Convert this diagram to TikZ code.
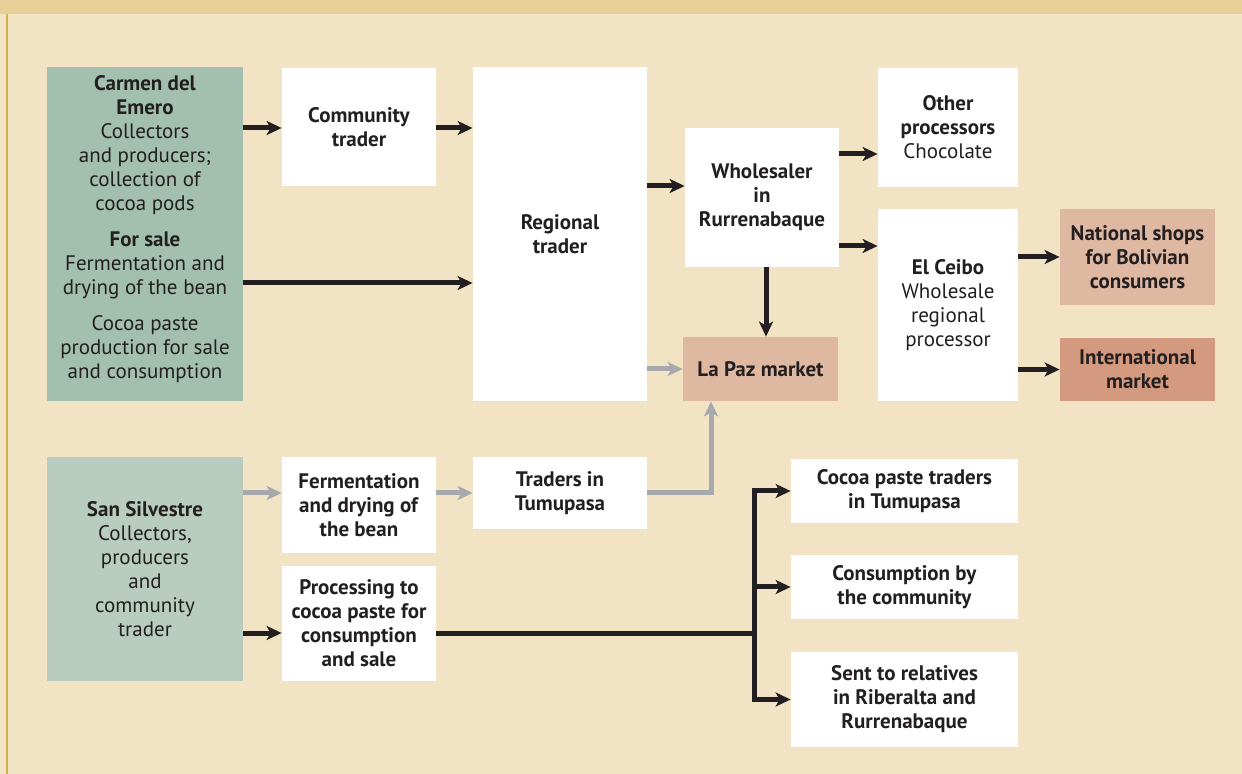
\documentclass[tikz,border=0pt]{standalone}
\usepackage{fontspec}
\setmainfont{PT Sans}
\usetikzlibrary{arrows.meta,positioning,calc}

\definecolor{paper}{HTML}{F2E3C4}
\definecolor{band}{HTML}{E8CF98}
\definecolor{goldline}{HTML}{D4B04A}
\definecolor{sage}{HTML}{A3BFB0}
\definecolor{palesage}{HTML}{B8CCC0}
\definecolor{rose}{HTML}{DFB8A2}
\definecolor{clay}{HTML}{D49A80}
\definecolor{ink}{HTML}{231F20}
\definecolor{greyflow}{HTML}{A7A9AC}

\begin{document}
\begin{tikzpicture}[x=0.5pt, y=-0.5pt,
    box/.style={rectangle, fill=white, text=ink, align=center, inner sep=0pt,
        font=\fontsize{10.5}{12}\selectfont},
    flow/.style={draw=ink, line width=2.5pt, line join=miter,
        -{Stealth[length=7.5pt, width=7pt, inset=2pt]}},
    greyarrow/.style={flow, draw=greyflow}]

    % background
    \useasboundingbox (0,0) rectangle (1242,774);
    \fill[paper] (0,0) rectangle (1242,774);
    \fill[band] (0,0) rectangle (1242,14);
    \fill[goldline] (5.5,14) rectangle (7.5,774);

    % upper chain
    \node[box, fill=sage, minimum width=98pt, minimum height=167pt] (carmen) at (145,234)
        {\textbf{Carmen del}\\\textbf{Emero}\\Collectors\\and producers;\\collection of\\cocoa pods\\[6pt]
         \textbf{For sale}\\Fermentation and\\drying of the bean\\[6pt]Cocoa paste\\production for sale\\and consumption\\[-5pt]\mbox{}};
    \node[box, minimum width=77pt, minimum height=59pt] (community) at (359,127) {\textbf{Community}\\\textbf{trader}};
    \node[box, minimum width=87pt, minimum height=167pt] (regional) at (560,234) {\textbf{Regional}\\\textbf{trader}};
    \node[box, minimum width=77pt, minimum height=69.5pt] (wholesaler) at (762,197.5) {\textbf{Wholesaler}\\\textbf{in}\\\textbf{Rurrenabaque}};
    \node[box, fill=rose, minimum width=77.5pt, minimum height=32pt] (lapaz) at (760.5,369) {\textbf{La Paz market}};
    \node[box, minimum width=70pt, minimum height=59.5pt] (others) at (948,127.5) {\textbf{Other}\\\textbf{processors}\\Chocolate};
    \node[box, minimum width=70pt, minimum height=96pt] (ceibo) at (948,305) {\textbf{El Ceibo}\\Wholesale\\regional\\processor};
    \node[box, fill=rose, minimum width=77.5pt, minimum height=48pt] (national) at (1137.5,257) {\textbf{National shops}\\\textbf{for Bolivian}\\\textbf{consumers}};
    \node[box, fill=clay, minimum width=77.5pt, minimum height=31.5pt] (international) at (1137.5,369.5) {\textbf{International}\\\textbf{market}};

    % lower chain
    \node[box, fill=palesage, minimum width=98pt, minimum height=112pt] (silvestre) at (145,569)
        {\textbf{San Silvestre}\\Collectors,\\producers\\and\\community\\trader};
    \node[box, minimum width=77pt, minimum height=48pt] (ferment) at (359,505) {\textbf{Fermentation}\\\textbf{and drying of}\\\textbf{the bean}};
    \node[box, minimum width=77pt, minimum height=57.5pt] (paste) at (359,623.5) {\textbf{Processing to}\\\textbf{cocoa paste for}\\\textbf{consumption}\\\textbf{and sale}};
    \node[box, minimum width=87pt, minimum height=36pt] (tumupasa) at (560,493) {\textbf{Traders in}\\\textbf{Tumupasa}};
    \node[box, minimum width=113.5pt, minimum height=32pt] (pastetraders) at (904.5,491) {\textbf{Cocoa paste traders}\\\textbf{in Tumupasa}};
    \node[box, minimum width=113.5pt, minimum height=32pt] (consumption) at (904.5,587) {\textbf{Consumption by}\\\textbf{the community}};
    \node[box, minimum width=113.5pt, minimum height=47.5pt] (relatives) at (904.5,699.5) {\textbf{Sent to relatives}\\\textbf{in Riberalta and}\\\textbf{Rurrenabaque}};
    \coordinate (split) at (754,633);

    % black flows
    \draw[flow] (carmen.east |- 0,128) -- (community.west |- 0,128);
    \draw[flow] (community.east |- 0,128) -- (regional.west |- 0,128);
    \draw[flow] (carmen.east |- 0,283) -- (regional.west |- 0,283);
    \draw[flow] (regional.east |- 0,186) -- (wholesaler.west |- 0,186);
    \draw[flow] (wholesaler.east |- 0,154) -- (others.west |- 0,154);
    \draw[flow] (wholesaler.east |- 0,246) -- (ceibo.west |- 0,246);
    \draw[flow] (wholesaler.south -| 766,0) -- (lapaz.north -| 766,0);
    \draw[flow] (ceibo.east |- national.west) -- (national.west);
    \draw[flow] (ceibo.east |- international.west) -- (international.west);
    \draw[flow] (silvestre.east |- split) -- (paste.west |- split);
    \draw[draw=ink, line width=2.5pt] (paste.east |- split) -- (split);
    \draw[flow] (split) |- (pastetraders.west);
    \draw[flow] (split) |- (consumption.west);
    \draw[flow] (split) |- (relatives.west);

    % grey flows
    \draw[greyarrow] (regional.east |- lapaz.west) -- (lapaz.west);
    \draw[greyarrow] (silvestre.east |- tumupasa.west) -- (ferment.west |- tumupasa.west);
    \draw[greyarrow] (ferment.east |- tumupasa.west) -- (tumupasa.west);
    \draw[greyarrow] (tumupasa.east) -| (lapaz.south -| 711,0);
\end{tikzpicture}
\end{document}
